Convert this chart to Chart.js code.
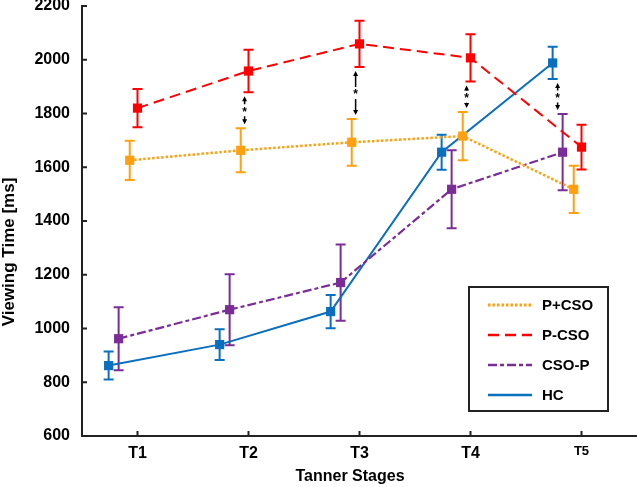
<!DOCTYPE html>
<html>
<head>
<meta charset="utf-8">
<script src="https://cdn.jsdelivr.net/npm/chart.js@4.4.0/dist/chart.umd.min.js"></script>
<style>
  html, body { margin: 0; padding: 0; background: #fff; overflow: hidden; }
  #wrap { width: 637px; height: 487px; }
</style>
</head>
<body>
<div id="wrap"><canvas id="myChart"></canvas></div>
<script>
const stages = ["T1", "T2", "T3", "T4", "T5"];

// means and error bars (ms)
const pPlusCso = [1626, 1663, 1693, 1716, 1518];
const pPlusCsoErr = [73, 82, 87, 90, 88];
const pMinusCso = [1820, 1958, 2059, 2007, 1675];
const pMinusCsoErr = [71, 79, 86, 88, 83];
const csoP = [962, 1070, 1171, 1518, 1656];
const csoPErr = [117, 132, 142, 145, 142];
const hc = [862, 940, 1063, 1656, 1988];
const hcErr = [52, 57, 62, 65, 60];

// significant differences (*) : stage index, upper group, lower group
const sigStage = [1, 2, 3, 4];
const sigUpper = ["P-CSO", "P-CSO", "P-CSO", "HC"];
const sigLower = ["P+CSO", "P+CSO", "P+CSO", "CSO-P"];

const FONT = "'Liberation Sans', Arial, sans-serif";
Chart.defaults.font.family = FONT;

function series(label, values, errs, color, dash, width, shift) {
  return {
    label: label,
    data: values.map((v, i) => ({ x: i + 1 + shift, y: v })),
    errors: errs,
    borderColor: color,
    backgroundColor: color,
    borderDash: dash,
    borderWidth: width,
    pointStyle: "rect",
    pointRadius: 6.5,
    pointBorderWidth: 0,
    pointBackgroundColor: color,
    fill: false,
    tension: 0,
  };
}

const datasets = [
  series("P+CSO", pPlusCso, pPlusCsoErr, "#FFA010", [2.5, 2], 2.5, -0.07),
  series("P-CSO", pMinusCso, pMinusCsoErr, "#FF0000", [11, 6], 2, 0),
  series("CSO-P", csoP, csoPErr, "#7A2D96", [9, 3, 4, 3], 2.2, -0.17),
  series("HC", hc, hcErr, "#0A6FBE", [], 2, -0.26),
];

const extras = {
  id: "extras",
  beforeDatasetsDraw(chart) {
    const { ctx, scales: { y } } = chart;
    chart.data.datasets.forEach((ds, di) => {
      const meta = chart.getDatasetMeta(di);
      ctx.save();
      ctx.strokeStyle = ds.borderColor;
      ctx.lineWidth = 2;
      ctx.setLineDash([]);
      meta.data.forEach((pt, i) => {
        const top = y.getPixelForValue(ds.data[i].y + ds.errors[i]);
        const bot = y.getPixelForValue(ds.data[i].y - ds.errors[i]);
        ctx.beginPath();
        ctx.moveTo(pt.x, top); ctx.lineTo(pt.x, bot);
        ctx.moveTo(pt.x - 5, top); ctx.lineTo(pt.x + 5, top);
        ctx.moveTo(pt.x - 5, bot); ctx.lineTo(pt.x + 5, bot);
        ctx.stroke();
      });
      ctx.restore();
    });
  },
  afterDraw(chart) {
    const { ctx, chartArea: area, scales: { x, y } } = chart;
    const ds = chart.data.datasets;
    ctx.save();

    // inward tick marks
    ctx.strokeStyle = "#222";
    ctx.lineWidth = 2;
    ctx.beginPath();
    y.ticks.forEach(t => {
      const py = y.getPixelForValue(t.value);
      ctx.moveTo(area.left, py); ctx.lineTo(area.left + 5, py);
    });
    x.ticks.forEach(t => {
      const px = x.getPixelForValue(t.value);
      ctx.moveTo(px, area.bottom); ctx.lineTo(px, area.bottom - 5);
    });
    ctx.stroke();

    // significance arrows
    sigStage.forEach((s, k) => {
      const u = ds.findIndex(d => d.label === sigUpper[k]);
      const l = ds.findIndex(d => d.label === sigLower[k]);
      const pu = chart.getDatasetMeta(u).data[s];
      const pl = chart.getDatasetMeta(l).data[s];
      const px = (pu.x + pl.x) / 2;
      const yTop = y.getPixelForValue(ds[u].data[s].y - ds[u].errors[s]) + 4;
      const yBot = y.getPixelForValue(ds[l].data[s].y + ds[l].errors[s]) - 4;
      const mid = (yTop + yBot) / 2;
      ctx.strokeStyle = "#000";
      ctx.fillStyle = "#000";
      ctx.lineWidth = 1.5;
      ctx.beginPath();
      ctx.moveTo(px, mid - 6); ctx.lineTo(px, yTop + 3);
      ctx.moveTo(px, mid + 6); ctx.lineTo(px, yBot - 3);
      ctx.stroke();
      ctx.beginPath();
      ctx.moveTo(px, yTop); ctx.lineTo(px - 2.5, yTop + 5); ctx.lineTo(px + 2.5, yTop + 5); ctx.closePath();
      ctx.moveTo(px, yBot); ctx.lineTo(px - 2.5, yBot - 5); ctx.lineTo(px + 2.5, yBot - 5); ctx.closePath();
      ctx.fill();
      ctx.font = "bold 12px " + FONT;
      ctx.textAlign = "center";
      ctx.textBaseline = "middle";
      ctx.fillText("*", px, mid + 2);
    });

    // legend box
    const lx = area.right - 168, ly = area.top + 281, lw = 139, lh = 124;
    ctx.fillStyle = "#fff";
    ctx.fillRect(lx, ly, lw, lh);
    ctx.strokeStyle = "#222";
    ctx.lineWidth = 2;
    ctx.strokeRect(lx, ly, lw, lh);
    ds.forEach((d, i) => {
      const ry = ly + 18 + i * 30;
      ctx.strokeStyle = d.borderColor;
      ctx.lineWidth = d.borderWidth + 0.5;
      ctx.setLineDash(d.borderDash);
      ctx.beginPath();
      ctx.moveTo(lx + 19, ry); ctx.lineTo(lx + 63, ry);
      ctx.stroke();
      ctx.setLineDash([]);
      ctx.fillStyle = "#000";
      ctx.font = "bold 15px " + FONT;
      ctx.textAlign = "left";
      ctx.textBaseline = "middle";
      ctx.fillText(d.label, lx + 73, ry + 1);
    });

    // axis titles
    ctx.fillStyle = "#000";
    ctx.textAlign = "center";
    ctx.textBaseline = "middle";
    ctx.font = "bold 16px " + FONT;
    ctx.fillText("Tanner Stages", area.left + 268, 477);
    ctx.save();
    ctx.translate(9, area.top + 246);
    ctx.rotate(-Math.PI / 2);
    ctx.font = "bold 17px " + FONT;
    ctx.fillText("Viewing Time [ms]", 0, 0);
    ctx.restore();

    ctx.restore();
  },
};

new Chart("myChart", {
  type: "line",
  data: { datasets: datasets },
  options: {
    responsive: true,
    maintainAspectRatio: false,
    animation: false,
    layout: { autoPadding: false, padding: 0 },
    plugins: { legend: { display: false }, tooltip: { enabled: false } },
    scales: {
      x: {
        type: "linear",
        min: 0.5,
        max: 5.5,
        afterBuildTicks: s => { s.ticks = stages.map((_, i) => ({ value: i + 1 })); },
        afterFit: s => { s.height = 51; s.paddingLeft = 0; s.paddingRight = 0; },
        grid: { display: false, drawTicks: false },
        border: { display: true, color: "#222", width: 2 },
        ticks: {
          padding: 8,
          color: "#000",
          font: ctx => ({ size: ctx.index === 4 ? 13 : 16, weight: "bold" }),
          callback: v => stages[v - 1],
        },
      },
      y: {
        min: 600,
        max: 2200,
        afterFit: s => { s.width = 82; s.paddingTop = 6; s.paddingBottom = 0; },
        grid: { display: false, drawTicks: false },
        border: { display: true, color: "#222", width: 2 },
        ticks: {
          stepSize: 200,
          padding: 12,
          color: "#000",
          font: { size: 16, weight: "bold" },
          callback: v => String(v),
        },
      },
    },
  },
  plugins: [extras],
});
</script>
</body>
</html>
